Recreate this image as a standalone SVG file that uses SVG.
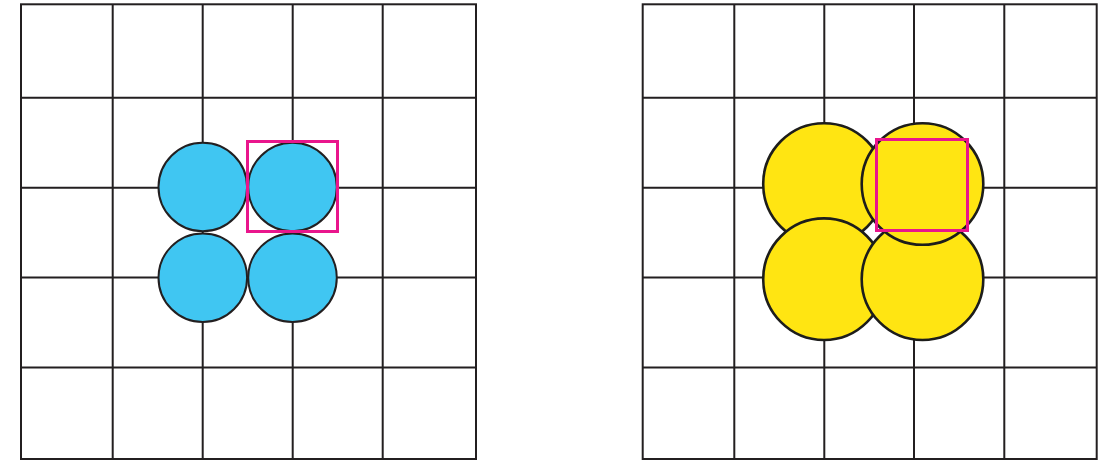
<svg xmlns="http://www.w3.org/2000/svg" width="1111" height="462" viewBox="0 0 1111 462">
<style>
.grid{fill:none;stroke:#231f20;stroke-width:2}
.blue{fill:#40c6f2;stroke:#231f20;stroke-width:2}
.yellow{fill:#ffe512;stroke:#1d1d1b;stroke-width:2.6}
.mark{fill:none;stroke:#e9168c;stroke-width:3}
</style>
<rect width="1111" height="462" fill="#ffffff"/>
<g id="left-grid" class="grid">
<rect x="21" y="4.3" width="455" height="454.7"/>
<path d="M112.7 4.3V459M202.7 4.3V459M292.7 4.3V459M382.7 4.3V459M21 97.7H476M21 187.7H476M21 277.5H476M21 367.5H476"/>
</g>
<g id="right-grid" class="grid">
<rect x="642.7" y="4.3" width="454" height="454.7"/>
<path d="M734.3 4.3V459M824.3 4.3V459M914 4.3V459M1004.3 4.3V459M642.7 97.7H1096.7M642.7 187.7H1096.7M642.7 277.5H1096.7M642.7 367.5H1096.7"/>
</g>
<g id="blue-circles">
<circle class="blue" cx="202.8" cy="187" r="44.3"/>
<circle class="blue" cx="292.5" cy="187" r="44.3"/>
<circle class="blue" cx="202.8" cy="277.7" r="44.3"/>
<circle class="blue" cx="292.5" cy="277.7" r="44.3"/>
</g>
<g id="left-marker"><rect class="mark" x="247.5" y="141.5" width="90" height="90"/></g>
<g id="yellow-circles">
<circle class="yellow" cx="824" cy="184" r="60.8"/>
<circle class="yellow" cx="824" cy="279.2" r="60.8"/>
<circle class="yellow" cx="922.5" cy="279.2" r="60.8"/>
<circle class="yellow" cx="922.5" cy="184" r="60.8"/>
</g>
<g id="right-marker"><rect class="mark" x="876.5" y="139.5" width="91" height="91"/></g>
</svg>
